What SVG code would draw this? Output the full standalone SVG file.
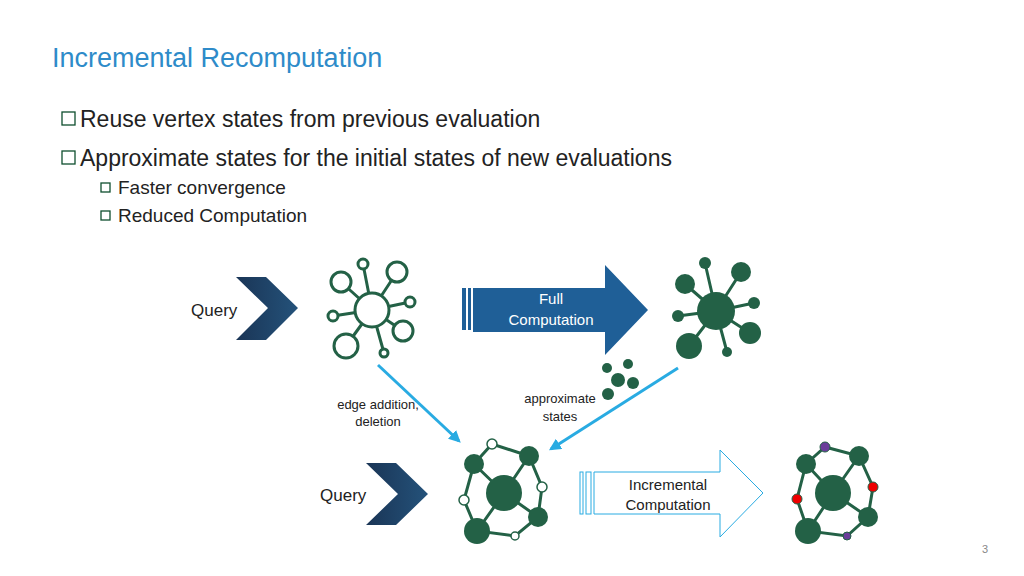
<svg xmlns="http://www.w3.org/2000/svg" width="1024" height="576" viewBox="0 0 1024 576">
<style>
text{font-family:"Liberation Sans",Arial,sans-serif}
.e{stroke:#236146;stroke-width:3;fill:none}
.o{fill:#fff;stroke:#236146;stroke-width:3}
.f{fill:#236146}
.ow{fill:#fff;stroke:#236146;stroke-width:1.5}
.b{fill:none;stroke:#0e4f2e;stroke-width:1.3}
</style>
<defs>
<marker id="ar" viewBox="0 0 10 10" refX="8" refY="5" markerWidth="4" markerHeight="4" orient="auto"><path d="M0,0L10,5L0,10z" fill="#29abe2"/></marker>
<linearGradient id="cg" x1="0" x2="1"><stop offset="0" stop-color="#1a3556"/><stop offset="1" stop-color="#24527a"/></linearGradient>
</defs>
<rect width="1024" height="576" fill="#fff"/>
<text x="52" y="67" font-size="27" fill="#2e8bc9">Incremental Recomputation</text>
<g font-size="23" fill="#222">
<rect x="62" y="112" width="13" height="13" class="b"/><text x="80" y="127">Reuse vertex states from previous evaluation</text>
<rect x="62" y="151" width="13" height="13" class="b"/><text x="80" y="166">Approximate states for the initial states of new evaluations</text>
</g>
<g font-size="19" fill="#222">
<rect x="101" y="183" width="9" height="9" class="b"/><text x="118" y="194">Faster convergence</text>
<rect x="101" y="211" width="9" height="9" class="b"/><text x="118" y="222">Reduced Computation</text>
</g>
<g id="query1"><path d="M236,277H266L298,308L266,340H236L268,308Z" fill="url(#cg)"/><text x="191" y="316" font-size="17" fill="#222">Query</text></g>
<g id="query2"><path d="M366,463H396L428,494L396,525H366L398,494Z" fill="url(#cg)"/><text x="320" y="501" font-size="17" fill="#222">Query</text></g>
<g id="graph1">
<path class="e" d="M372,310L363,264M372,310L341,282M372,310L397,272M372,310L410,302M372,310L333,316M372,310L403,331M372,310L346,346M372,310L384,353"/>
<circle class="o" cx="372" cy="310" r="17"/>
<circle class="o" cx="363" cy="264" r="5"/><circle class="o" cx="341" cy="282" r="10"/><circle class="o" cx="397" cy="272" r="10"/><circle class="o" cx="410" cy="302" r="5"/><circle class="o" cx="333" cy="316" r="5"/><circle class="o" cx="403" cy="331" r="10"/><circle class="o" cx="346" cy="346" r="12"/><circle class="o" cx="384" cy="353" r="4"/>
</g>
<g id="full">
<rect x="462" y="288" width="4" height="42" fill="#1f5f97"/><rect x="468" y="288" width="3" height="42" fill="#1f5f97"/>
<path d="M473,288H605V265L648,310L605,355V332H473Z" fill="#1f5f97"/>
<text x="551" y="304" font-size="15" fill="#fff" text-anchor="middle">Full</text><text x="551" y="325" font-size="15" fill="#fff" text-anchor="middle">Computation</text>
</g>
<g id="graph2">
<path class="e" d="M716,311L705,263M716,311L685,284M716,311L741,272M716,311L754,303M716,311L678,316M716,311L750,333M716,311L689,346M716,311L727,352"/>
<circle class="f" cx="716" cy="311" r="19"/>
<circle class="f" cx="705" cy="263" r="6"/><circle class="f" cx="685" cy="284" r="10"/><circle class="f" cx="741" cy="272" r="10"/><circle class="f" cx="754" cy="303" r="6"/><circle class="f" cx="678" cy="316" r="6"/><circle class="f" cx="750" cy="333" r="11"/><circle class="f" cx="689" cy="346" r="13"/><circle class="f" cx="727" cy="352" r="5"/>
</g>
<g id="approx">
<circle class="f" cx="607" cy="368" r="5"/><circle class="f" cx="628" cy="364" r="5"/><circle class="f" cx="618" cy="380" r="7"/><circle class="f" cx="633" cy="383" r="6"/><circle class="f" cx="608" cy="394" r="6"/>
<text x="560" y="403" font-size="13" fill="#222" text-anchor="middle">approximate</text><text x="560" y="421" font-size="13" fill="#222" text-anchor="middle">states</text>
</g>
<g id="connectors" stroke="#29abe2" stroke-width="3" fill="none">
<path d="M378,365L459,441" marker-end="url(#ar)"/>
<path d="M678,368L551,449" marker-end="url(#ar)"/>
</g>
<g id="lbl"><text x="378" y="409" font-size="13" fill="#222" text-anchor="middle">edge addition,</text><text x="378" y="426" font-size="13" fill="#222" text-anchor="middle">deletion</text></g>
<g id="graph3">
<path class="e" d="M474,464L492,444L529,456L542,487L538,517L515,536L477,531L464,500Z"/>
<path class="e" stroke-width="4" d="M504,493L474,464M504,493L529,456M504,493L538,517M504,493L477,531"/>
<circle class="f" cx="504" cy="493" r="18"/>
<circle class="f" cx="474" cy="464" r="10"/><circle class="f" cx="529" cy="456" r="10"/><circle class="f" cx="538" cy="517" r="10"/><circle class="f" cx="477" cy="531" r="13"/>
<circle class="ow" cx="492" cy="444" r="5"/><circle class="ow" cx="542" cy="487" r="5"/><circle class="ow" cx="464" cy="500" r="5"/><circle class="ow" cx="515" cy="536" r="4"/>
</g>
<g id="incr">
<rect x="580" y="472" width="3" height="42" fill="#fff" stroke="#29abe2"/><rect x="586" y="472" width="5" height="42" fill="#fff" stroke="#29abe2"/>
<path d="M594,472H720V450L763,493L720,537V514H594Z" fill="#fff" stroke="#29abe2"/>
<text x="668" y="490" font-size="15" fill="#222" text-anchor="middle">Incremental</text><text x="668" y="510" font-size="15" fill="#222" text-anchor="middle">Computation</text>
</g>
<g id="graph4">
<path class="e" d="M806,464L825,447L859,456L873,487L868,517L847,536L808,531L797,499Z"/>
<path class="e" stroke-width="4" d="M833,493L806,464M833,493L859,456M833,493L868,517M833,493L808,531"/>
<circle class="f" cx="833" cy="493" r="18"/>
<circle class="f" cx="806" cy="464" r="10"/><circle class="f" cx="859" cy="456" r="10"/><circle class="f" cx="868" cy="517" r="10"/><circle class="f" cx="808" cy="531" r="13"/>
<circle cx="825" cy="447" r="5" fill="#6a3d9a" stroke="#236146"/><circle cx="873" cy="487" r="5" fill="#e00" stroke="#236146"/><circle cx="797" cy="499" r="5" fill="#e00" stroke="#236146"/><circle cx="847" cy="536" r="4" fill="#6a3d9a" stroke="#236146"/>
</g>
<text x="982" y="553" font-size="11" fill="#888">3</text>
</svg>
